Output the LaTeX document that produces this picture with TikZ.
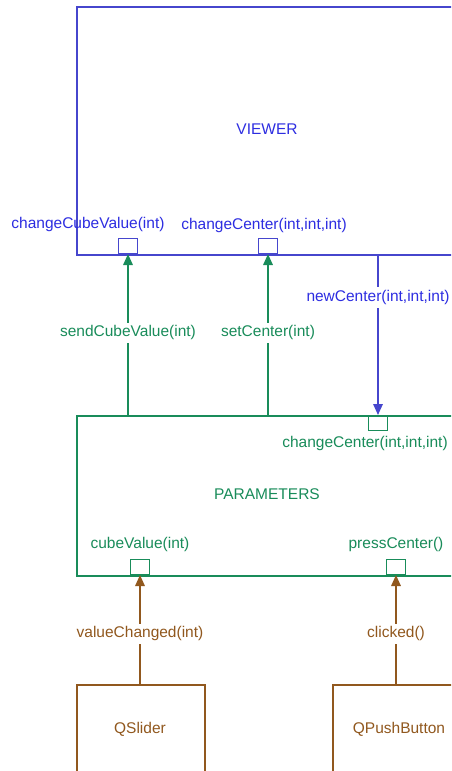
\documentclass[tikz,border=0pt]{standalone}
\usepackage{fontspec}
\setmainfont{Liberation Sans}
\usetikzlibrary{arrows.meta}
\definecolor{vblue}{RGB}{70,70,205}
\definecolor{tblue}{RGB}{45,45,225}
\definecolor{pgreen}{RGB}{25,140,90}
\definecolor{sbrown}{RGB}{145,88,30}
\tikzset{
  txt/.style={font=\fontsize{15.5}{18}\selectfont, inner sep=1pt},
  box/.style={draw, line width=1.5pt, anchor=north west, inner sep=0pt},
  port/.style={draw, line width=1.4pt, minimum width=19pt, minimum height=15pt, inner sep=0pt},
  conn/.style={line width=1.6pt, -{Triangle[width=9.5pt,length=11pt]}},
  cl/.style={txt, fill=white, inner sep=3pt},
}
\begin{document}
\begin{tikzpicture}[x=1pt, y=-1pt]
\useasboundingbox (0,0) rectangle (451,771);
\clip (0,0) rectangle (451,771);
\fill[white] (0,0) rectangle (451,771);

% component boxes
\node[box, vblue, minimum width=382pt, minimum height=248pt] (viewer) at (76,6) {};
\node[box, pgreen, minimum width=382pt, minimum height=160pt] (params) at (76,415) {};
\node[box, sbrown, minimum width=128pt, minimum height=100pt] (slider) at (76,684) {};
\node[box, sbrown, minimum width=134pt, minimum height=100pt] (button) at (332,684) {};

\node[txt, tblue] (tviewer) at (267,129) {VIEWER};
\node[txt, pgreen] (tparams) at (267,494) {PARAMETERS};
\node[txt, sbrown] (tslider) at (140,729) {QSlider};
\node[txt, sbrown] (tbutton) at (399,729) {QPushButton};

% slots and signals
\node[port, vblue, anchor=south] (vcube) at (128,254) {};
\node[port, vblue, anchor=south] (vcenter) at (268,254) {};
\node[port, pgreen, anchor=north] (pcenter) at (378,415) {};
\node[port, pgreen, anchor=south] (pcube) at (140,575) {};
\node[port, pgreen, anchor=south] (ppress) at (396,575) {};

\node[txt, tblue] (lvcube) at (88,224) {changeCubeValue(int)};
\node[txt, tblue] (lvcenter) at (264,225) {changeCenter(int,int,int)};
\node[txt, pgreen] (lpcenter) at (365,443) {changeCenter(int,int,int)};
\node[txt, pgreen] (lpcube) at (140,544) {cubeValue(int)};
\node[txt, pgreen] (lppress) at (396,544) {pressCenter()};

% connections
\coordinate (vout) at (378,254);
\coordinate (pin1) at (128,415);
\coordinate (pin2) at (268,415);
\coordinate (sout) at (140,684);
\coordinate (bout) at (396,684);

\draw[conn, vblue] (vout) -- node[cl, text=tblue, pos=0.27] {newCenter(int,int,int)} (pcenter.north);
\draw[conn, pgreen] (pin1) -- node[cl, pos=0.51] {sendCubeValue(int)} (vcube.south);
\draw[conn, pgreen] (pin2) -- node[cl, pos=0.51] {setCenter(int)} (vcenter.south);
\draw[conn, sbrown] (sout) -- node[cl, pos=0.46] {valueChanged(int)} (pcube.south);
\draw[conn, sbrown] (bout) -- node[cl, pos=0.46] {clicked()} (ppress.south);
\end{tikzpicture}
\end{document}
